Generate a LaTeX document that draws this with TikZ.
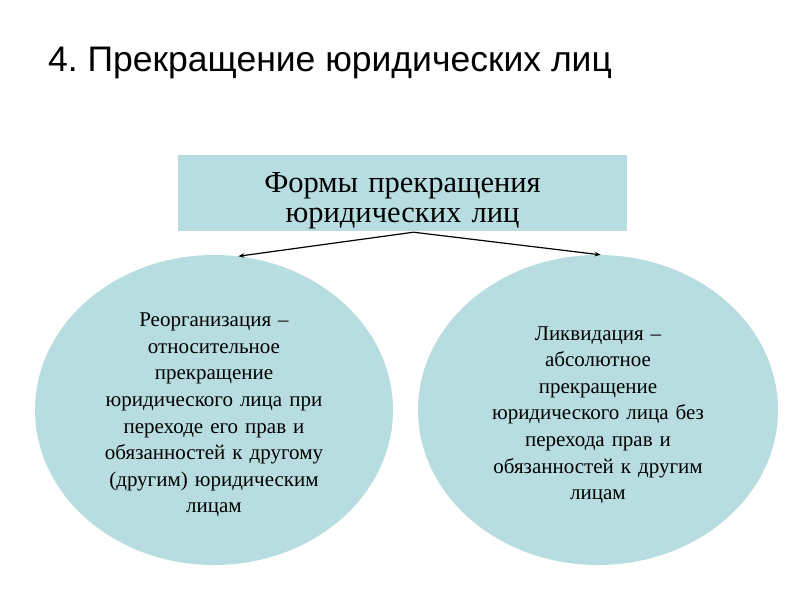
\documentclass[tikz,border=0pt]{standalone}
\usepackage{fontspec}
\setmainfont{Liberation Serif}
\newfontfamily\titlefont{Liberation Sans}
\usetikzlibrary{arrows.meta, calc, positioning, shapes.geometric}
\definecolor{paleteal}{RGB}{184,221,224}
\tikzset{
    formbox/.style={fill=paleteal, minimum width=449pt, minimum height=76pt, inner sep=0pt},
    formoval/.style={ellipse, fill=paleteal, minimum width=#1, minimum height=310pt, inner sep=0pt},
    formoval/.default={358pt},
    formtext/.style={align=center, inner sep=0pt, text width=240pt,
        font=\fontsize{21}{26.6}\selectfont},
    branch/.style={-{Stealth[length=6pt,width=4.5pt]}, line width=1.2pt}
}

\begin{document}
\begin{tikzpicture}[x=1pt, y=-1pt]
    \useasboundingbox (0,0) rectangle (800,600);
    \node[anchor=base west, inner sep=0pt, font=\titlefont\fontsize{35.5}{35.5}\selectfont]
        (title) at (48,71) {4.\ Прекращение юридических лиц};
    % box and its two branches
    \node[formbox] (forms) at (402.5,193) {};
    \node[formtext, text width=440pt, font=\fontsize{30.5}{29.5}\selectfont]
        (formslabel) at ($(forms.center)+(0,8)$) {Формы прекращения\\юридических лиц};
    \node[formoval] (reorg) at (214,410) {};
    \node[formoval=360pt] (liq) at (598,410) {};
    \node[formtext] (reorglabel) at ($(reorg.center)+(0,5)$) {Реорганизация --\\относительное\\прекращение\\юридического лица при\\переходе его прав и\\обязанностей к другому\\(другим) юридическим\\лицам};
    \node[formtext] (liqlabel) at ($(liq.center)+(0,5)$) {Ликвидация --\\абсолютное\\прекращение\\юридического лица без\\перехода прав и\\обязанностей к другим\\лицам};
    \coordinate (split) at ($(forms.south)+(11,1)$);
    \draw[branch] (split) -- (reorg.81);
    \draw[branch] (split) -- (liq.89);
\end{tikzpicture}
\end{document}
